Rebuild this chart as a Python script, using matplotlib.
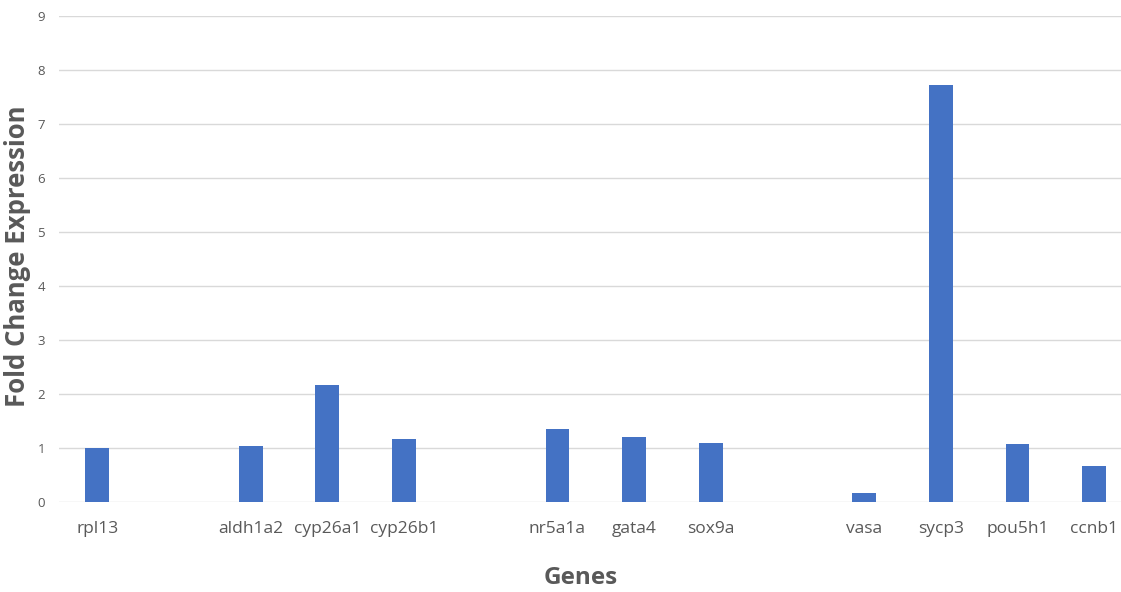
import numpy as np
import matplotlib.pyplot as plt

# gene order on the x axis; blank slots separate the groups
genes = ["rpl13", "", "aldh1a2", "cyp26a1", "cyp26b1", "", "nr5a1a", "gata4",
         "sox9a", "", "vasa", "sycp3", "pou5h1", "ccnb1"]
fold_change = [1.0, np.nan, 1.03, 2.16, 1.17, np.nan, 1.36, 1.21,
               1.10, np.nan, 0.17, 7.72, 1.08, 0.67]

BAR_COLOR = "#4472c4"
GRID_COLOR = "#d9d9d9"
TEXT_COLOR = "#595959"

W, H = 1121, 592
fig = plt.figure(figsize=(W / 100, H / 100), dpi=100)
ax = fig.add_axes([59 / W, 90 / H, 1 - 59 / W, 486 / H])

x = np.arange(len(genes))
ax.bar(x, np.nan_to_num(fold_change), width=0.31, color=BAR_COLOR, zorder=3)

ax.set_ylim(0, 9)
ax.set_xlim(-0.5, 13.35)
ax.set_yticks(range(0, 10))
ax.set_xticks(x, genes)

for side in ["top", "right", "left", "bottom"]:
    ax.spines[side].set_visible(False)
ax.yaxis.grid(True, color=GRID_COLOR, linewidth=1, zorder=0)
ax.tick_params(axis="both", length=0)
ax.tick_params(axis="y", labelsize=9.5, labelcolor=TEXT_COLOR, pad=10)
ax.tick_params(axis="x", labelsize=12.5, labelcolor=TEXT_COLOR, pad=14)
for lbl in ax.get_xticklabels() + ax.get_yticklabels():
    lbl.set_family("Open Sans")

# axis titles
fig.text(18 / W, 1 - 256 / H, "Fold Change Expression", rotation=90,
         fontsize=18.5, fontweight="bold", color=TEXT_COLOR, family="Open Sans",
         ha="center", va="center")
fig.text(581 / W, 1 - 578 / H, "Genes", fontsize=17.5, fontweight="bold",
         color=TEXT_COLOR, family="Open Sans", ha="center", va="center")

fig.savefig("out.png", dpi=100)
